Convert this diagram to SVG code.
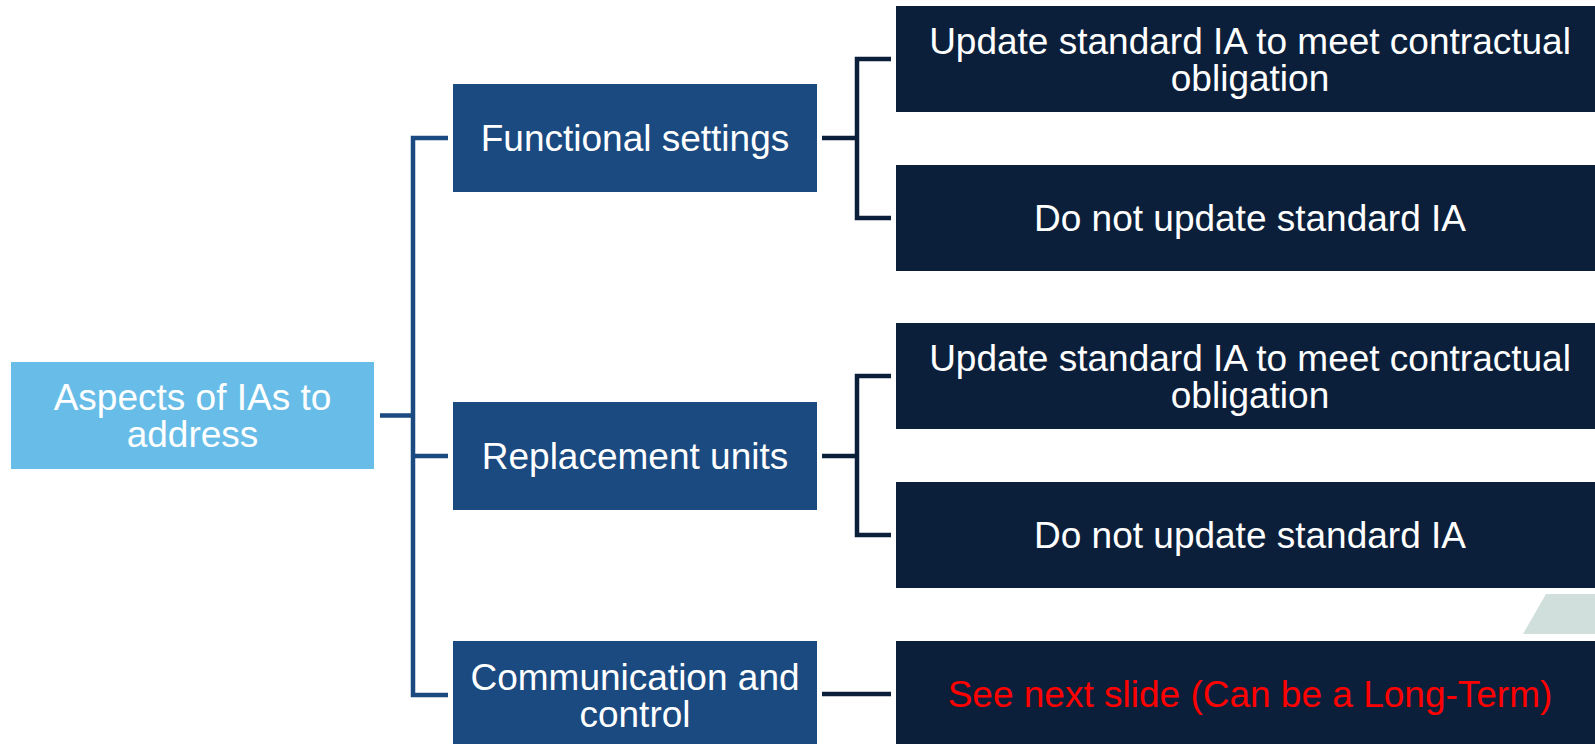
<svg xmlns="http://www.w3.org/2000/svg" width="1595" height="744" viewBox="0 0 1595 744">
<style>
.root{fill:#67BDE8}
.mid{fill:#1A4A80}
.leaf{fill:#0B1F3B}
.t{font-family:"Liberation Sans",Arial,sans-serif;font-size:37px;fill:#FFFFFF;text-anchor:middle}
.red{fill:#FF0000}
.c1{fill:none;stroke:#1B4A80;stroke-width:4.5;stroke-linejoin:miter}
.c2{fill:none;stroke:#0B1F3B;stroke-width:4.5;stroke-linejoin:miter}
</style>
<rect width="1595" height="744" fill="#FFFFFF"/>
<g id="connectors">
<path class="c1" d="M380,415.5 H413 M448,138 H413 V695 H448 M413,456 H448"/>
<path class="c2" d="M822,138 H857 M891,59 H857 V218 H891"/>
<path class="c2" d="M822,456 H857 M891,376 H857 V535 H891"/>
<path class="c2" d="M822,694 H891"/>
</g>
<g id="root">
<rect class="root" x="11" y="362" width="363" height="107"/>
<text class="t" x="192.5" y="410">Aspects of IAs to</text>
<text class="t" x="192.5" y="447">address</text>
</g>
<g id="functional">
<rect class="mid" x="453" y="84" width="364" height="108"/>
<text class="t" x="635" y="151">Functional settings</text>
</g>
<g id="replacement">
<rect class="mid" x="453" y="402" width="364" height="108"/>
<text class="t" x="635" y="469">Replacement units</text>
</g>
<g id="communication">
<rect class="mid" x="453" y="641" width="364" height="108"/>
<text class="t" x="635" y="690">Communication and</text>
<text class="t" x="635" y="727">control</text>
</g>
<g id="fs-update">
<rect class="leaf" x="896" y="6" width="708" height="106"/>
<text class="t" x="1250" y="54">Update standard IA to meet contractual</text>
<text class="t" x="1250" y="91">obligation</text>
</g>
<g id="fs-noupdate">
<rect class="leaf" x="896" y="165" width="708" height="106"/>
<text class="t" x="1250" y="231">Do not update standard IA</text>
</g>
<g id="ru-update">
<rect class="leaf" x="896" y="323" width="708" height="106"/>
<text class="t" x="1250" y="371">Update standard IA to meet contractual</text>
<text class="t" x="1250" y="408">obligation</text>
</g>
<g id="ru-noupdate">
<rect class="leaf" x="896" y="482" width="708" height="106"/>
<text class="t" x="1250" y="548">Do not update standard IA</text>
</g>
<g id="cc-next">
<rect class="leaf" x="896" y="641" width="708" height="108"/>
<text class="t red" x="1250" y="707">See next slide (Can be a Long-Term)</text>
</g>
<polygon points="1546,594 1595,594 1595,634 1523,634" fill="#D0DFDB"/>
</svg>
